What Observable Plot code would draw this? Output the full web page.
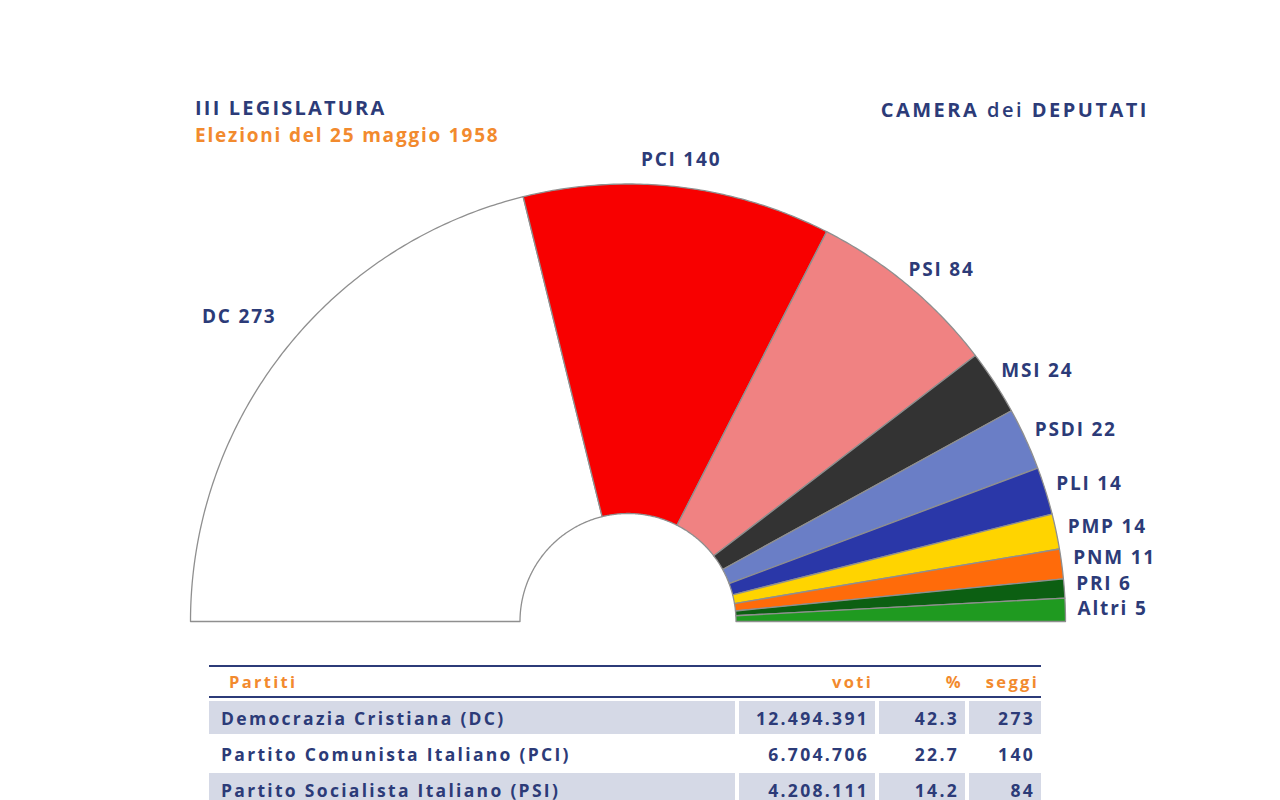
<!DOCTYPE html>
<html>
<head>
<meta charset="utf-8">
<script src="https://cdn.jsdelivr.net/npm/d3@7"></script>
<script src="https://cdn.jsdelivr.net/npm/@observablehq/plot@0.6"></script>
<style>
  html, body { margin: 0; padding: 0; background: #fff; }
  body { width: 1280px; height: 800px; overflow: hidden; font-family: "Open Sans", Lato, sans-serif; }
  #wrap { position: relative; width: 1280px; height: 800px; }
  .t { position: absolute; font-weight: 700; white-space: nowrap; }
  #t1 { left: 195px; top: 94px; font-size: 20px; letter-spacing: 2.2px; color: #2c3b78; }
  #t2 { left: 195px; top: 122px; font-size: 19px; letter-spacing: 1.8px; color: #f28a2e; }
  #t3 { right: 131px; top: 96px; font-size: 20px; letter-spacing: 2.5px; color: #2c3b78; }
  #chart { position: absolute; left: 0; top: 0; }
  #tbl { position: absolute; left: 209px; top: 665px; width: 832px; border-collapse: separate; border-spacing: 0; table-layout: fixed; color: #2c3b78; font-weight: 700; letter-spacing: 2.3px; }
  #tbl th { color: #f28a2e; font-size: 16.5px; height: 29px; padding: 0 2px; border-top: 2px solid #2c3b78; border-bottom: 2px solid #2c3b78; text-align: right; }
  #tbl th:first-child { text-align: left; padding-left: 20px; }
  #tbl td { font-size: 17.5px; height: 33px; padding: 0 6px; text-align: right; border-top: 3px solid #fff; border-left: 4px solid #fff; }
  #tbl td:first-child { text-align: left; padding-left: 12px; border-left: none; }
  #tbl tr.shade td { background: #d5d9e6; }
</style>
</head>
<body>
<div id="wrap">
  <div id="chart"></div>
  <div class="t" id="t1">III LEGISLATURA</div>
  <div class="t" id="t2">Elezioni del 25 maggio 1958</div>
  <div class="t" id="t3">CAMERA <span style="font-weight:600">dei</span> DEPUTATI</div>
  <table id="tbl"></table>
</div>
<script>
// ---- data ----
const parties = ["DC", "PCI", "PSI", "MSI", "PSDI", "PLI", "PMP", "PNM", "PRI", "Altri"];
const seats = [273, 140, 84, 24, 22, 14, 14, 11, 6, 5];
const votePct = [42.3, 22.7, 14.2, 4.8, 4.6, 3.5, 2.6, 2.2, 1.4, 1.7];
const partyColors = ["#ffffff", "#f80000", "#f08282", "#333333", "#6a7ec6", "#2a37a8", "#ffd400", "#ff6b0a", "#0c5f12", "#1f9a20"];

const tableHeader = ["Partiti", "voti", "%", "seggi"];
const tableNames = ["Democrazia Cristiana (DC)", "Partito Comunista Italiano (PCI)", "Partito Socialista Italiano (PSI)"];
const tableVotes = ["12.494.391", "6.704.706", "4.208.111"];
const tablePct = ["42.3", "22.7", "14.2"];
const tableSeats = [273, 140, 84];

// ---- geometry ----
const W = 1280, H = 650;
const cx = 627.5, cy = 621, R = 437.5;
const rInner = 108 / R;
const angle = d3.scaleLinear().domain([0, d3.sum(votePct)]).range([Math.PI, 0]);

let cum = 0;
const wedges = parties.map((p, i) => {
  const w = {party: p, seats: seats[i], a0: angle(cum), a1: angle(cum + votePct[i])};
  cum += votePct[i];
  w.mid = (w.a0 + w.a1) / 2;
  return w;
});

const pts = [];
for (const w of wedges) {
  const n = Math.max(4, Math.ceil(Math.abs(w.a0 - w.a1) * 180 / Math.PI * 2));
  for (let k = 0; k <= n; k++) {
    const a = w.a0 + (w.a1 - w.a0) * k / n;
    pts.push({party: w.party, x: Math.cos(a), y: Math.sin(a)});
  }
  for (let k = n; k >= 0; k--) {
    const a = w.a0 + (w.a1 - w.a0) * k / n;
    pts.push({party: w.party, x: rInner * Math.cos(a), y: rInner * Math.sin(a)});
  }
}

// labels: centred above/left wedges, start-anchored along the right arc,
// then pushed apart vertically so that neighbouring labels never collide
const labels = wedges.map(w => {
  const side = w.mid < Math.PI / 3 ? "start" : "middle";
  const a = side === "start" ? w.mid + 0.012 * (w.mid / 0.5) : w.mid;
  const r = side === "start" ? 1.028 : 1.05 + 0.1 * Math.abs(Math.cos(w.mid));
  return {side, r, text: `${w.party} ${w.seats}`, x: r * Math.cos(a), y: r * Math.sin(a)};
});
const right = labels.filter(d => d.side === "start");
const minGap = 25.5 / R;
for (let i = right.length - 2; i >= 0; i--) {
  if (right[i].y - right[i + 1].y < minGap) right[i].y = right[i + 1].y + minGap;
}
for (const d of right) d.x = Math.sqrt(Math.max(0, d.r * d.r - d.y * d.y));

const navy = "#2c3b78";
const chart = Plot.plot({
  width: W, height: H,
  marginTop: 0, marginBottom: 0, marginLeft: 0, marginRight: 0,
  x: {domain: [-cx / R, (W - cx) / R], axis: null},
  y: {domain: [-(H - cy) / R, cy / R], axis: null},
  color: {domain: parties, range: partyColors},
  style: {fontFamily: "'Open Sans', Lato, sans-serif", background: "transparent", letterSpacing: "1.8px"},
  marks: [
    Plot.line(pts, {x: "x", y: "y", z: "party", fill: "party", stroke: "#8f8f8f", strokeWidth: 1.3, curve: "linear-closed"}),
    Plot.text(labels.filter(d => d.side === "middle"), {x: "x", y: "y", text: "text", textAnchor: "middle", fill: navy, fontSize: 19, fontWeight: 700}),
    Plot.text(right, {x: "x", y: "y", text: "text", textAnchor: "start", fill: navy, fontSize: 19, fontWeight: 700})
  ]
});
document.getElementById("chart").appendChild(chart);

// ---- table ----
const tbl = d3.select("#tbl");
const cg = tbl.append("colgroup");
[526, 140, 90, 76].forEach(w => cg.append("col").style("width", w + "px"));
tbl.append("tr").selectAll("th").data(tableHeader).join("th").text(d => d);
tableNames.forEach((n, i) => {
  const tr = tbl.append("tr").attr("class", i % 2 === 0 ? "shade" : null);
  [n, tableVotes[i], tablePct[i], tableSeats[i]].forEach(v => tr.append("td").text(v));
});
</script>
</body>
</html>
